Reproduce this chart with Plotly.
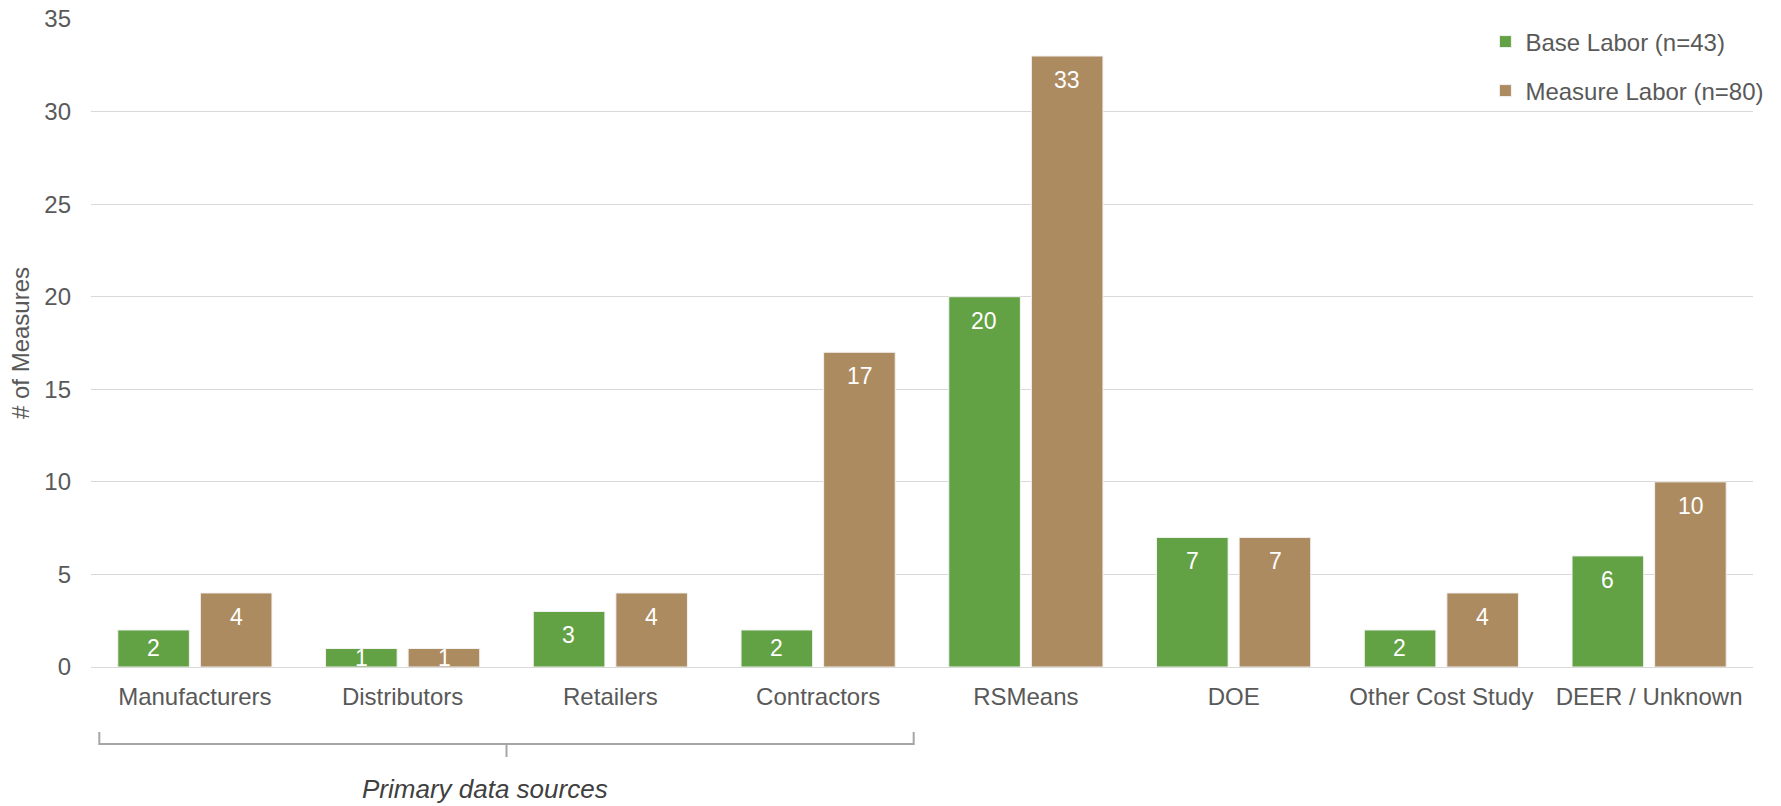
import plotly.graph_objects as go

categories = ["Manufacturers", "Distributors", "Retailers", "Contractors",
              "RSMeans", "DOE", "Other Cost Study", "DEER / Unknown"]
base_labor = [2, 1, 3, 2, 20, 7, 2, 6]
measure_labor = [4, 1, 4, 17, 33, 7, 4, 10]
series_names = ["Base Labor (n=43)", "Measure Labor (n=80)"]
y_ticks = [0, 5, 10, 15, 20, 25, 30, 35]

GREEN = "#63A145"
BROWN = "#AD8B61"
TXT = "#595959"
FONT = "Liberation Sans, Arial, sans-serif"

PLOT_T, PLOT_B = 19, 667
PLOT_H = PLOT_B - PLOT_T
PX_PER_UNIT = PLOT_H / 35.0

fig = go.Figure()
fig.add_trace(go.Bar(x=categories, y=base_labor, name=series_names[0],
                     marker=dict(color=GREEN, line=dict(color="#F2F2F2", width=1)),
                     legend="legend", showlegend=True, hoverinfo="skip"))
fig.add_trace(go.Bar(x=categories, y=measure_labor, name=series_names[1],
                     marker=dict(color=BROWN, line=dict(color="#F2F2F2", width=1)),
                     legend="legend2", showlegend=True, hoverinfo="skip"))

annotations = []
for vals, shift in ((base_labor, -41.4), (measure_labor, 41.4)):
    for c, v in zip(categories, vals):
        dy = min(24.0, v * PX_PER_UNIT / 2.0)
        annotations.append(dict(x=c, y=v, xref="x", yref="y", text=str(v),
                                showarrow=False, xshift=shift, yshift=-dy,
                                yanchor="middle", xanchor="center",
                                font=dict(family=FONT, size=23, color="white")))

annotations.append(dict(x=1.398, y=-(789 - PLOT_B) / PLOT_H, xref="x", yref="paper",
                        text="<i>Primary data sources</i>", showarrow=False,
                        yanchor="middle", xanchor="center",
                        font=dict(family=FONT, size=26, color="#404040")))

bracket_color = "#A6A6A6"
y_top = -(732 - PLOT_B) / PLOT_H
y_mid = -(744 - PLOT_B) / PLOT_H
y_tip = -(757 - PLOT_B) / PLOT_H
shapes = [
    dict(type="path", xref="x", yref="paper",
         path=f"M -0.46,{y_top} L -0.46,{y_mid} L 3.46,{y_mid} L 3.46,{y_top}",
         line=dict(color=bracket_color, width=2)),
    dict(type="line", xref="x", yref="paper", x0=1.5, x1=1.5, y0=y_mid, y1=y_tip,
         line=dict(color=bracket_color, width=2)),
]

fig.update_layout(
    width=1781, height=806,
    margin=dict(l=91, r=25, t=PLOT_T, b=806 - PLOT_B),
    paper_bgcolor="white", plot_bgcolor="white",
    barmode="group", bargap=0.205, bargroupgap=0.133,
    showlegend=True,
    font=dict(family=FONT, size=24, color=TXT),
    annotations=annotations, shapes=shapes,
    legend=dict(x=0.839, y=1.0 - (42 - PLOT_T) / PLOT_H, xanchor="left", yanchor="middle",
                bgcolor="rgba(0,0,0,0)", font=dict(size=24, color=TXT)),
    legend2=dict(x=0.839, y=1.0 - (91 - PLOT_T) / PLOT_H, xanchor="left", yanchor="middle",
                 bgcolor="rgba(0,0,0,0)", font=dict(size=24, color=TXT)),
    xaxis=dict(showgrid=False, showline=True, linecolor="#D9D9D9", linewidth=1,
               ticks="", tickfont=dict(size=24, color=TXT), ticklabelstandoff=8,
               range=[-0.5, 7.5], automargin=False),
    yaxis=dict(range=[0, 35], tickvals=y_ticks, showgrid=True, gridcolor="#D9D9D9",
               gridwidth=1, zeroline=False, showline=False, ticks="",
               tickfont=dict(size=24, color=TXT), ticklabelstandoff=19,
               automargin=False,
               title=dict(text="# of Measures", font=dict(size=24, color=TXT), standoff=7)),
)

fig.write_html("out.html", config={"displayModeBar": False},
               post_script="document.body.style.margin='0';document.body.style.overflow='hidden';")
